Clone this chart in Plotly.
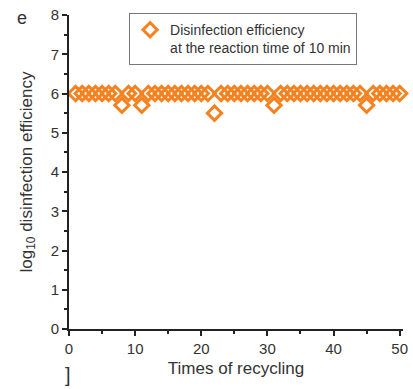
import plotly.graph_objects as go

cycles = list(range(1, 51))
dips = {8: 5.7, 11: 5.7, 22: 5.5, 31: 5.7, 45: 5.7}
efficiency = [dips.get(c, 6.0) for c in cycles]
x_ticks = [0, 10, 20, 30, 40, 50]
y_ticks = [0, 1, 2, 3, 4, 5, 6, 7, 8]

orange = "#F58220"
font = "Liberation Sans, Arial, sans-serif"

fig = go.Figure()
fig.add_trace(go.Scatter(
    x=cycles, y=efficiency, mode="markers",
    name="Disinfection efficiency<br>at the reaction time of 10 min",
    marker=dict(symbol="diamond-open", size=11, color=orange, line=dict(width=3, color=orange)),
    cliponaxis=False,
))

axis_common = dict(
    showline=True, linecolor="#222", linewidth=2, mirror=False,
    ticks="outside", ticklen=5, tickwidth=2, tickcolor="#222",
    showgrid=False, zeroline=False,
    tickfont=dict(family=font, size=15, color="#333"),
)

fig.update_layout(
    width=413, height=389,
    margin=dict(l=69, r=5, t=15, b=60),
    plot_bgcolor="white", paper_bgcolor="white",
    font=dict(family=font, color="#333"),
    xaxis=dict(range=[0, 50.5], tickvals=x_ticks,
               minor=dict(tickvals=[5, 15, 25, 35, 45], ticklen=3, tickwidth=2, tickcolor="#222", ticks="outside"),
               title=dict(text="Times of recycling", font=dict(family=font, size=17, color="#333"), standoff=6),
               **axis_common),
    yaxis=dict(range=[0, 8], tickvals=y_ticks,
               minor=dict(dtick=0.5, ticklen=3, tickwidth=2, tickcolor="#222", ticks="outside"),
               title=dict(text="log<sub>10</sub> disinfection efficiency", font=dict(family=font, size=17, color="#333"), standoff=14),
               **axis_common),
    showlegend=True,
    legend=dict(x=0.18, y=1.006, xanchor="left", yanchor="top",
                bordercolor="#777", borderwidth=1, bgcolor="white",
                font=dict(family=font, size=14, color="#333"), valign="top",
                itemwidth=30, tracegroupgap=0),
)

fig.add_annotation(text="e", x=(21 - 69) / 339, y=(329 - 18) / 314, xref="paper", yref="paper",
                   xanchor="center", yanchor="middle", showarrow=False,
                   font=dict(family=font, size=18, color="#333"))
fig.add_annotation(text="]", x=(68 - 69) / 339, y=(329 - 375) / 314, xref="paper", yref="paper",
                   xanchor="center", yanchor="middle", showarrow=False,
                   font=dict(family=font, size=20, color="#333"))

fig.write_html("out.html")
